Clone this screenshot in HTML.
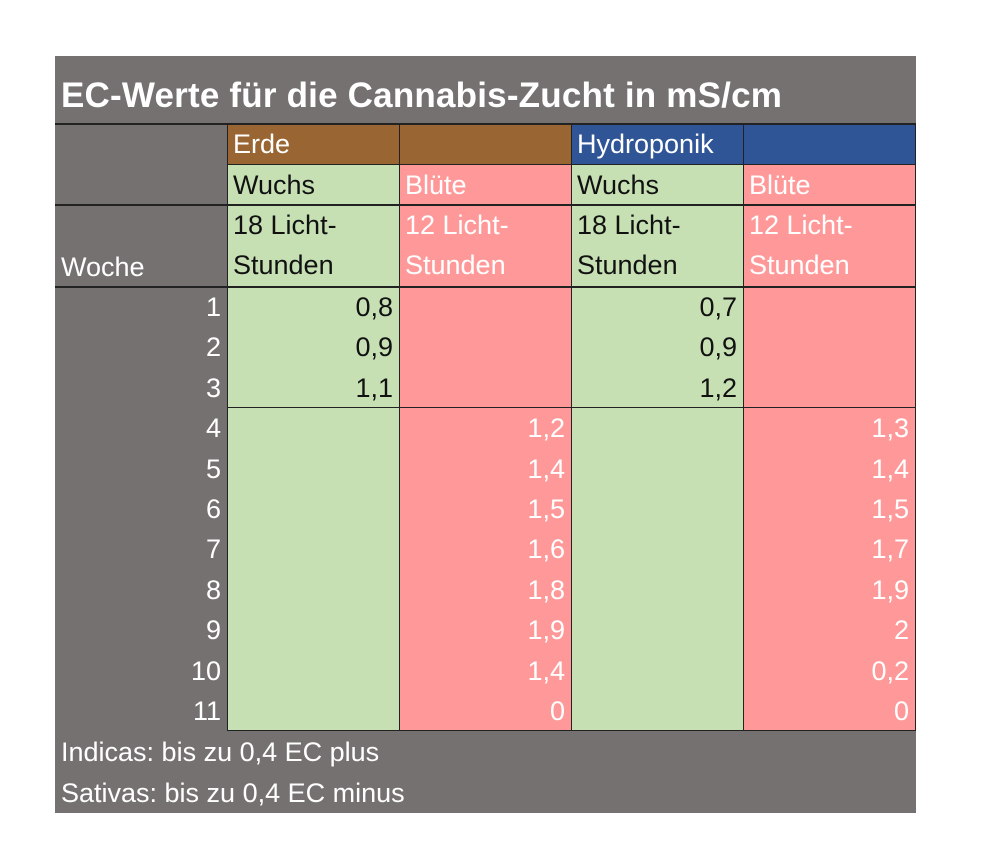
<!DOCTYPE html><html><head><meta charset="utf-8"><style>
body{margin:0;width:983px;height:864px;background:#fff;font-family:"Liberation Sans",sans-serif;position:relative;overflow:hidden}
.c{position:absolute;box-sizing:border-box;font-size:27px;line-height:40px;padding:0 6px;white-space:nowrap}
.g{background:#767171;color:#fff}.gr{background:#C6E0B4;color:#111}.p{background:#FF9999;color:#fff}
.br{background:#996633;color:#fff}.bl{background:#2F5597;color:#fff}
.r{text-align:right}
.l{position:absolute;background:#222}
</style></head><body>
<div class="c g" style="left:55px;top:56px;width:861px;height:757px"></div>
<div class="c" style="left:55px;top:66px;color:#fff;font-weight:bold;font-size:35px;letter-spacing:0.2px;line-height:60px;padding-left:6px">EC-Werte für die Cannabis-Zucht in mS/cm</div>
<div class="c br" style="left:227px;top:124px;width:172px;height:41px">Erde</div>
<div class="c br" style="left:399px;top:124px;width:172px;height:41px"></div>
<div class="c bl" style="left:571px;top:124px;width:172px;height:41px">Hydroponik</div>
<div class="c bl" style="left:743px;top:124px;width:173px;height:41px"></div>
<div class="c gr" style="left:227px;top:165px;width:172px;height:40px">Wuchs</div>
<div class="c p" style="left:399px;top:165px;width:172px;height:40px">Blüte</div>
<div class="c gr" style="left:571px;top:165px;width:172px;height:40px">Wuchs</div>
<div class="c p" style="left:743px;top:165px;width:173px;height:40px">Blüte</div>
<div class="c gr" style="left:227px;top:205px;width:172px;height:82px">18 Licht-<br>Stunden</div>
<div class="c p" style="left:399px;top:205px;width:172px;height:82px">12 Licht-<br>Stunden</div>
<div class="c gr" style="left:571px;top:205px;width:172px;height:82px">18 Licht-<br>Stunden</div>
<div class="c p" style="left:743px;top:205px;width:173px;height:82px">12 Licht-<br>Stunden</div>
<div class="c" style="left:55px;top:247px;color:#fff">Woche</div>
<div class="c gr" style="left:227px;top:287px;width:172px;height:444px"></div>
<div class="c p" style="left:399px;top:287px;width:172px;height:444px"></div>
<div class="c gr" style="left:571px;top:287px;width:172px;height:444px"></div>
<div class="c p" style="left:743px;top:287px;width:173px;height:444px"></div>
<div id="rows"></div>
<div class="l" style="left:55px;top:123px;width:861px;height:2px"></div>
<div class="l" style="left:227px;top:164px;width:689px;height:1px"></div>
<div class="l" style="left:55px;top:204px;width:861px;height:2px"></div>
<div class="l" style="left:55px;top:286px;width:861px;height:2px"></div>
<div class="l" style="left:227px;top:407px;width:689px;height:1px"></div>
<div class="l" style="left:227px;top:730px;width:689px;height:1px"></div>
<div class="l" style="left:227px;top:124px;width:1px;height:607px"></div>
<div class="l" style="left:399px;top:124px;width:1px;height:607px"></div>
<div class="l" style="left:571px;top:124px;width:1px;height:607px"></div>
<div class="l" style="left:743px;top:124px;width:1px;height:607px"></div>
<div class="l" style="left:915px;top:124px;width:1px;height:607px"></div>
<div class="c" style="left:55px;top:732px;color:#fff">Indicas: bis zu 0,4 EC plus</div>
<div class="c" style="left:55px;top:773px;color:#fff">Sativas: bis zu 0,4 EC minus</div>
<script>
var d=[["0,8","","0,7",""],["0,9","","0,9",""],["1,1","","1,2",""],["","1,2","","1,3"],["","1,4","","1,4"],["","1,5","","1,5"],["","1,6","","1,7"],["","1,8","","1,9"],["","1,9","","2"],["","1,4","","0,2"],["","0","","0"]];
var h="",xs=[227,399,571,743],col=["#111","#fff","#111","#fff"];
for(var i=0;i<11;i++){var t=287+i*40.4;
h+='<div class="c r" style="left:55px;top:'+t+'px;width:172px;color:#fff">'+(i+1)+'</div>';
for(var j=0;j<4;j++)if(d[i][j])h+='<div class="c r" style="left:'+xs[j]+'px;top:'+t+'px;width:172px;color:'+col[j]+'">'+d[i][j]+'</div>';}
document.getElementById("rows").innerHTML=h;
</script>
</body></html>
